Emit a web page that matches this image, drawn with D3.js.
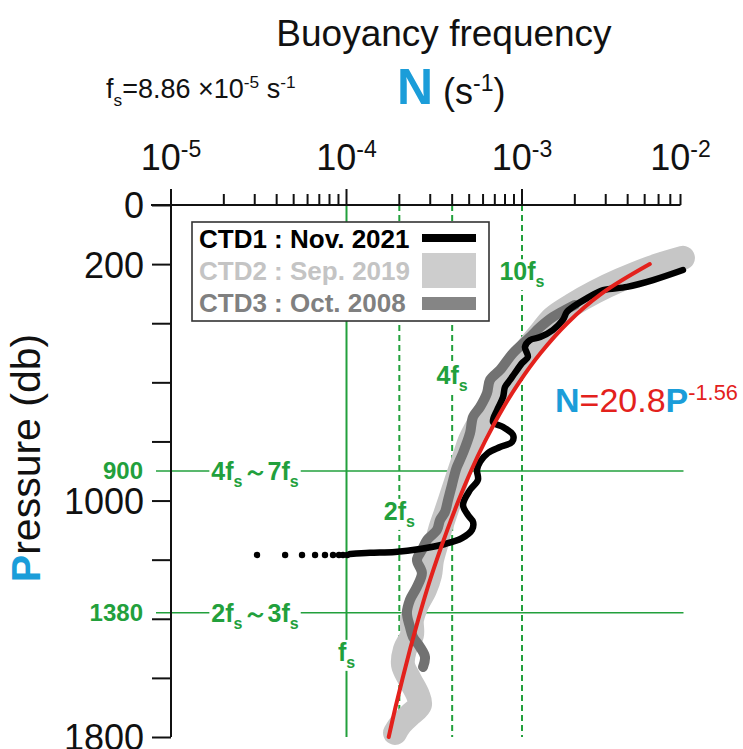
<!DOCTYPE html>
<html>
<head>
<meta charset="utf-8">
<script src="https://cdn.jsdelivr.net/npm/d3@7"></script>
<style>
  html, body { margin: 0; padding: 0; background: #fff; }
  svg { display: block; font-family: "Liberation Sans", Arial, sans-serif; }
</style>
</head>
<body>
<svg id="chart" width="743" height="749"></svg>
<script>
// ---- values ----
const pressureTicks = [0, 200, 400, 600, 800, 1000, 1200, 1400, 1600, 1800];
const pressureLabels = [0, 200, 1000, 1800];
const decades = [-5, -4, -3, -2];
const fsMultiples = [1, 2, 4, 10];
const fsLabels = ["f", "2f", "4f", "10f"];
const fsBase = 1.0e-4; // the drawn fs line sits on 10^-4
const levelLines = [900, 1380];
const levelRanges = [["4f", "～7f"], ["2f", "～3f"]];

const legendNames = ["CTD1 : Nov. 2021", "CTD2 : Sep. 2019", "CTD3 : Oct. 2008"];

// CTD1 (black)
const ctd1P = [220, 254, 277, 288, 315, 345, 362, 389, 423, 447, 457, 480, 514, 535, 568, 592, 616, 650, 694, 734,
  751, 778, 802, 819, 839, 869, 896, 930, 964, 1015, 1049, 1072, 1099, 1127, 1147, 1164, 1174, 1177, 1181];
const ctd1N = [8.26e-3, 5.58e-3, 3.97e-3, 2.90e-3, 2.35e-3, 1.95e-3, 1.80e-3, 1.71e-3, 1.50e-3, 1.27e-3,
  1.11e-3, 1.04e-3, 1.08e-3, 1.0e-3, 9.12e-4, 8.55e-4, 8.0e-4, 7.80e-4, 7.21e-4, 6.84e-4,
  7.80e-4, 8.89e-4, 8.77e-4, 7.50e-4, 6.40e-4, 5.77e-4, 5.54e-4, 5.61e-4, 5.06e-4, 4.61e-4,
  4.92e-4, 5.26e-4, 5.19e-4, 4.55e-4, 3.64e-4, 2.62e-4, 1.89e-4, 1.36e-4, 1.05e-4];
// dotted tail of CTD1
const ctd1TailP = 1184;
const ctd1TailN = [1.01e-4, 9.55e-5, 9.06e-5, 8.38e-5, 7.54e-5, 6.62e-5, 5.58e-5, 4.47e-5, 3.09e-5];

// CTD2 (light gray band)
const ctd2P = [179, 213, 254, 294, 338, 382, 433, 484, 541, 592, 643, 694, 744, 795, 846, 896, 947, 998, 1049, 1099,
  1150, 1201, 1252, 1302, 1353, 1404, 1455, 1505, 1556, 1607, 1658, 1691, 1725, 1759, 1786];
const ctd2N = [8.26e-3, 5.36e-3, 3.62e-3, 2.61e-3, 1.93e-3, 1.50e-3, 1.27e-3, 1.08e-3, 9.37e-4, 8.21e-4,
  7.21e-4, 6.32e-4, 5.61e-4, 5.06e-4, 4.73e-4, 4.43e-4, 4.15e-4, 3.89e-4, 3.64e-4, 3.41e-4,
  3.24e-4, 3.07e-4, 2.99e-4, 2.80e-4, 2.52e-4, 2.36e-4, 2.36e-4, 2.15e-4, 2.10e-4, 2.30e-4,
  2.55e-4, 2.62e-4, 2.30e-4, 2.02e-4, 1.89e-4];

// CTD3 (dark gray)
const ctd3P = [338, 379, 413, 447, 501, 558, 592, 636, 683, 717, 771, 839, 886, 907, 947, 998, 1039, 1066, 1099, 1133,
  1167, 1201, 1245, 1292, 1336, 1380, 1428, 1461, 1495, 1529, 1563];
const ctd3N = [2.00e-3, 1.50e-3, 1.27e-3, 1.11e-3, 8.89e-4, 7.50e-4, 6.57e-4, 6.32e-4, 5.77e-4, 5.26e-4,
  5.06e-4, 4.61e-4, 4.26e-4, 4.15e-4, 3.99e-4, 3.79e-4, 3.64e-4, 3.41e-4, 3.28e-4, 2.88e-4,
  2.69e-4, 2.52e-4, 2.69e-4, 2.52e-4, 2.30e-4, 2.21e-4, 2.30e-4, 2.39e-4, 2.62e-4, 2.80e-4, 2.73e-4];

// fitted curve N = 20.8 P^-1.56 (red)
const fitP = [200, 300, 400, 500, 600, 700, 800, 900, 1000, 1100, 1200, 1300, 1400, 1500, 1600, 1700, 1800];
const fitN = [5.35e-3, 2.84e-3, 1.81e-3, 1.28e-3, 9.63e-4, 7.57e-4, 6.15e-4, 5.12e-4, 4.35e-4, 3.75e-4,
  3.27e-4, 2.88e-4, 2.57e-4, 2.31e-4, 2.09e-4, 1.90e-4, 1.74e-4];

// ---- setup ----
const GREEN = "#22a03c";
const BLUE = "#1b9dd9";
const RED = "#e3211c";

const svg = d3.select("#chart");

const x = d3.scaleLog().domain([1e-5, 1e-2]).range([171, 697.5]);
const y = d3.scaleLinear().domain([0, 1800]).range([205, 737]);
const xEnd = x(8e-3);

// text with sub/superscript pieces: [text, "sub"|"sup"|null, style]
function rich(g, px, py, pieces, size, attrs) {
  const t = g.append("text").attr("x", px).attr("y", py).attr("font-size", size);
  Object.entries(attrs || {}).forEach(([k, v]) => t.attr(k, v));
  let shift = 0;
  pieces.forEach(([s, kind, style]) => {
    const want = kind === "sub" ? size * 0.28 : kind === "sup" ? -size * 0.36 : 0;
    const sp = t.append("tspan").attr("dy", want - shift).text(s);
    if (kind) sp.attr("font-size", size * 0.64);
    if (style) Object.entries(style).forEach(([k, v]) => sp.attr(k, v));
    shift = want;
  });
  return t;
}

// white patch behind a label so the green line is broken there
function whiteBehind(t, pad) {
  const b = t.node().getBBox();
  t.node().parentNode.insertBefore(
    d3.create("svg:rect")
      .attr("x", b.x - pad).attr("y", b.y + 2)
      .attr("width", b.width + pad * 2).attr("height", b.height - 2)
      .attr("fill", "#fff").node(),
    t.node()
  );
}

// ---- green reference lines ----
const gGreen = svg.append("g");
fsMultiples.forEach((m) => {
  gGreen.append("line")
    .attr("x1", x(fsBase * m)).attr("x2", x(fsBase * m))
    .attr("y1", y(0)).attr("y2", y(1800))
    .attr("stroke", GREEN).attr("stroke-width", 2)
    .attr("stroke-dasharray", m === 1 ? null : "6,4");
});
levelLines.forEach((p) => {
  gGreen.append("line")
    .attr("x1", 156).attr("x2", xEnd + 3)
    .attr("y1", y(p)).attr("y2", y(p))
    .attr("stroke", GREEN).attr("stroke-width", 1.5);
});

// ---- curves ----
const line = d3.line()
  .x((d) => x(d[1]))
  .y((d) => y(d[0]))
  .curve(d3.curveCatmullRom.alpha(0.5));

const gCurves = svg.append("g").attr("fill", "none")
  .attr("stroke-linecap", "round").attr("stroke-linejoin", "round");

gCurves.append("path")
  .attr("d", line(d3.zip(ctd2P, ctd2N)))
  .attr("stroke", "#c6c6c6").attr("stroke-width", 24);

gCurves.append("path")
  .attr("d", line(d3.zip(ctd3P, ctd3N)))
  .attr("stroke", "#727272").attr("stroke-width", 10);

gCurves.append("path")
  .attr("d", line(d3.zip(ctd1P, ctd1N)))
  .attr("stroke", "#000").attr("stroke-width", 6.5);

svg.append("g").selectAll("circle")
  .data(ctd1TailN)
  .join("circle")
  .attr("cx", (d) => x(d))
  .attr("cy", y(ctd1TailP))
  .attr("r", 3.2)
  .attr("fill", "#000");

gCurves.append("path")
  .attr("d", line(d3.zip(fitP, fitN)))
  .attr("stroke", RED).attr("stroke-width", 4);

// ---- green labels ----
const gLab = svg.append("g").attr("fill", GREEN).attr("font-weight", "bold");
const fsLabelP = [1512, 1035, 575, 224];
fsMultiples.forEach((m, i) => {
  const t = rich(gLab, x(fsBase * m), y(fsLabelP[i]) + 9, [[fsLabels[i]], ["s", "sub"]], 25,
    { "text-anchor": "middle" });
  whiteBehind(t, 2);
});
levelLines.forEach((p, i) => {
  gLab.append("text")
    .attr("x", 143).attr("y", y(p)).attr("dy", "0.33em")
    .attr("text-anchor", "end").attr("font-size", 24)
    .text(p);
  const t = rich(gLab, 255, y(p) + 9,
    [[levelRanges[i][0]], ["s", "sub"], [levelRanges[i][1]], ["s", "sub"]], 25,
    { "text-anchor": "middle" });
  whiteBehind(t, 2);
});

// ---- axes ----
const gAxis = svg.append("g").attr("stroke", "#111").attr("stroke-width", 2);
gAxis.append("line").attr("x1", 151).attr("x2", xEnd).attr("y1", y(0)).attr("y2", y(0));
gAxis.append("line").attr("x1", 171).attr("x2", 171).attr("y1", 190).attr("y2", y(1800));

const minor = [];
decades.slice(0, 3).forEach((d) => {
  for (let k = 2; k <= 9; k++) {
    const v = k * Math.pow(10, d);
    if (v <= 8.01e-3) minor.push(v);
  }
});
gAxis.selectAll(".minor").data(minor).join("line")
  .attr("x1", (d) => x(d)).attr("x2", (d) => x(d))
  .attr("y1", y(0)).attr("y2", y(0) - 11);
gAxis.selectAll(".major").data(decades.slice(0, 3)).join("line")
  .attr("x1", (d) => x(Math.pow(10, d))).attr("x2", (d) => x(Math.pow(10, d)))
  .attr("y1", y(0)).attr("y2", y(0) - 16);

const yAxis = d3.axisLeft(y)
  .tickValues(pressureTicks)
  .tickSize(19)
  .tickPadding(8)
  .tickFormat((d) => (pressureLabels.includes(d) ? d : ""));
const gy = svg.append("g").attr("transform", "translate(171,0)").call(yAxis);
gy.select(".domain").remove();
gy.selectAll(".tick line").attr("stroke", "#111").attr("stroke-width", 2);
gy.selectAll(".tick text").attr("font-size", 36).attr("fill", "#111")
  .attr("font-family", "'Liberation Sans', Arial, sans-serif").attr("dy", "0.36em");

// decade labels on top
decades.forEach((d) => {
  const px = d === -2 ? xEnd : x(Math.pow(10, d));
  rich(svg, px, 170, [["10"], [String(d), "sup"]], 36,
    { "text-anchor": "middle", fill: "#111" });
});

// ---- titles ----
svg.append("text")
  .attr("x", 444).attr("y", 46)
  .attr("text-anchor", "middle").attr("font-size", 37).attr("fill", "#111")
  .text("Buoyancy frequency");

rich(svg, 106, 98,
  [["f"], ["s", "sub"], ["=8.86  ×10"], ["-5", "sup"], [" s"], ["-1", "sup"]], 27,
  { fill: "#111" });

const tN = svg.append("text").attr("x", 397).attr("y", 104).attr("fill", "#111");
tN.append("tspan").attr("font-size", 50).attr("font-weight", "bold").attr("fill", BLUE).text("N");
tN.append("tspan").attr("font-size", 36).text(" (s");
tN.append("tspan").attr("font-size", 23).attr("dy", -13).text("-1");
tN.append("tspan").attr("font-size", 36).attr("dy", 13).text(")");

const tP = svg.append("text")
  .attr("transform", "translate(40,458) rotate(-90)")
  .attr("text-anchor", "middle").attr("font-size", 41).attr("fill", "#111");
tP.append("tspan").attr("fill", BLUE).attr("font-weight", "bold").text("P");
tP.append("tspan").text("ressure (db)");

// fit formula
rich(svg, 555, 412,
  [["N", null, { fill: BLUE, "font-weight": "bold" }], ["=20.8"], ["P", null, { fill: BLUE, "font-weight": "bold" }],
   ["-1.56", "sup"]], 34, { fill: RED });

// ---- legend ----
const gLeg = svg.append("g");
gLeg.append("rect")
  .attr("x", 192).attr("y", 222).attr("width", 297).attr("height", 99)
  .attr("fill", "#fff").attr("stroke", "#333").attr("stroke-width", 1.6);
const legColors = ["#000", "#c4c4c4", "#808080"];
legendNames.forEach((name, i) => {
  gLeg.append("text")
    .attr("x", 199).attr("y", 248 + i * 32)
    .attr("font-size", 26).attr("font-weight", "bold").attr("fill", legColors[i])
    .text(name);
});
gLeg.append("rect").attr("x", 422).attr("y", 234).attr("width", 54).attr("height", 8).attr("fill", "#000");
gLeg.append("rect").attr("x", 422).attr("y", 253).attr("width", 54).attr("height", 35).attr("fill", "#cdcdcd");
gLeg.append("rect").attr("x", 422).attr("y", 297).attr("width", 54).attr("height", 13).attr("fill", "#858585");
</script>
</body>
</html>
